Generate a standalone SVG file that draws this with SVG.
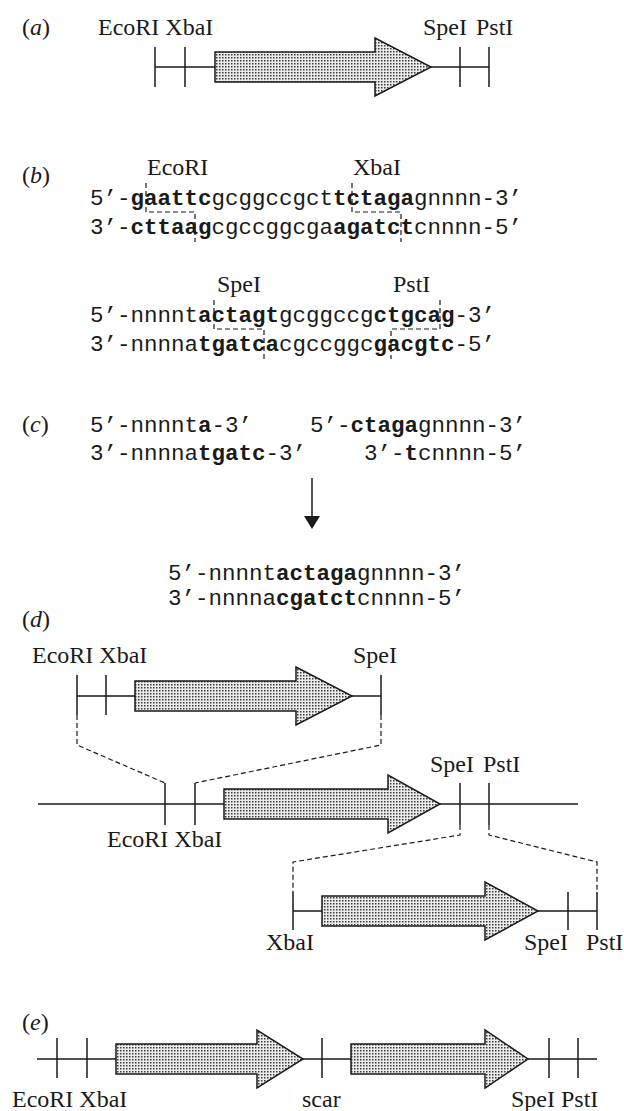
<svg xmlns="http://www.w3.org/2000/svg" width="624" height="1111" viewBox="0 0 624 1111">
<defs>
<pattern id="dots" width="3" height="3" patternUnits="userSpaceOnUse">
<rect width="3" height="3" fill="#ececec"/>
<rect width="1.5" height="1.5" fill="#3a3a3a"/>
</pattern>
<style>
.lbl{font-family:"Liberation Serif","Times New Roman",serif;font-size:24px;fill:#1a1a1a}
.seq{font-family:"Liberation Mono","Courier New",monospace;font-size:22.5px;fill:#1a1a1a}
.b{font-weight:bold}
.ln{stroke:#1a1a1a;stroke-width:1.5;fill:none}
.dash{stroke:#1a1a1a;stroke-width:1.2;fill:none;stroke-dasharray:5 3}
.arr{fill:url(#dots);stroke:#1a1a1a;stroke-width:1.5}
</style>
</defs>
<rect width="624" height="1111" fill="#fff"/>

<g id="panel-a">
<text class="lbl" x="22" y="35">(<tspan font-style="italic">a</tspan>)</text>
<text class="lbl" x="98" y="35">EcoRI XbaI</text>
<text class="lbl" x="423" y="35">SpeI</text>
<text class="lbl" x="476" y="35">PstI</text>
<path class="ln" d="M155,67 H215 M431,67 H489 M155,47 V87 M185,47 V87 M460,47 V87 M489,47 V87"/>
<path class="arr" d="M215,52 H375 V38 L431,67 L375,96 V82 H215 Z"/>
</g>

<g id="panel-b">
<text class="lbl" x="22" y="183">(<tspan font-style="italic">b</tspan>)</text>
<text class="lbl" x="147" y="175">EcoRI</text>
<text class="lbl" x="353" y="175">XbaI</text>
<text class="seq" x="90" y="205">5’-<tspan class="b">gaattc</tspan>gcggccgct<tspan class="b">tctaga</tspan>gnnnn-3’</text>
<text class="seq" x="90" y="234">3’-<tspan class="b">cttaag</tspan>cgccggcga<tspan class="b">agatct</tspan>cnnnn-5’</text>
<text class="lbl" x="217" y="292">SpeI</text>
<text class="lbl" x="393" y="292">PstI</text>
<text class="seq" x="90" y="322">5’-nnnnt<tspan class="b">actagt</tspan>gcggccg<tspan class="b">ctgcag</tspan>-3’</text>
<text class="seq" x="90" y="351">3’-nnnna<tspan class="b">tgatca</tspan>cgccggc<tspan class="b">gacgtc</tspan>-5’</text>
</g>

<g id="panel-c">
<text class="lbl" x="22" y="432">(<tspan font-style="italic">c</tspan>)</text>
<text class="seq" x="90" y="432">5’-nnnnt<tspan class="b">a</tspan>-3’</text>
<text class="seq" x="310" y="432">5’-<tspan class="b">ctaga</tspan>gnnnn-3’</text>
<text class="seq" x="90" y="460">3’-nnnna<tspan class="b">tgatc</tspan>-3’</text>
<text class="seq" x="364" y="460">3’-<tspan class="b">t</tspan>cnnnn-5’</text>
<text class="seq" x="168" y="580">5’-nnnnt<tspan class="b">actaga</tspan>gnnnn-3’</text>
<text class="seq" x="168" y="605">3’-nnnna<tspan class="b">cgatct</tspan>cnnnn-5’</text>
</g>

<g id="panel-d">
<text class="lbl" x="22" y="627">(<tspan font-style="italic">d</tspan>)</text>
<text class="lbl" x="32" y="663">EcoRI XbaI</text>
<text class="lbl" x="353" y="663">SpeI</text>
<path class="ln" d="M77,696 H135 M352,696 H381 M77,675 V715 M106,675 V715 M381,675 V715"/>
<path class="arr" d="M135,681 H296 V667 L352,696 L296,725 V711 H135 Z"/>
<text class="lbl" x="430" y="772">SpeI</text>
<text class="lbl" x="483" y="772">PstI</text>
<path class="ln" d="M38,804 H224 M440,804 H578 M165,783 V825 M195,783 V825 M460,783 V825 M489,783 V825"/>
<path class="arr" d="M224,789 H388 V775 L440,804 L388,833 V819 H224 Z"/>
<text class="lbl" x="107" y="847">EcoRI XbaI</text>
<path class="ln" d="M293,911 H322 M538,911 H597 M293,892 V930 M568,892 V930 M597,892 V930"/>
<path class="arr" d="M322,896 H485 V882 L538,911 L485,940 V926 H322 Z"/>
<text class="lbl" x="266" y="950">XbaI</text>
<text class="lbl" x="524" y="950">SpeI</text>
<text class="lbl" x="586" y="950">PstI</text>
</g>

<g id="panel-e">
<text class="lbl" x="22" y="1030">(<tspan font-style="italic">e</tspan>)</text>
<path class="ln" d="M37,1059 H116 M303,1059 H351 M528,1059 H597 M57,1038 V1078 M87,1038 V1078 M322,1038 V1078 M549,1038 V1078 M578,1038 V1078"/>
<path class="arr" d="M116,1044 H257 V1030 L303,1059 L257,1088 V1074 H116 Z"/>
<path class="arr" d="M351,1044 H485 V1030 L528,1059 L485,1088 V1074 H351 Z"/>
<text class="lbl" x="12" y="1107">EcoRI XbaI</text>
<text class="lbl" x="302" y="1107">scar</text>
<text class="lbl" x="511" y="1107">SpeI</text>
<text class="lbl" x="561" y="1107">PstI</text>
</g>

<g id="connectors">
<path class="dash" d="M146,183 V212 H195 V242"/>
<path class="dash" d="M352,183 V212 H401 V242"/>
<path class="dash" d="M214,300 V329 H264 V359"/>
<path class="dash" d="M440,300 V329 H391 V359"/>
<path class="ln" d="M312,478 V518"/>
<polygon points="304,516 320,516 312,529" fill="#1a1a1a"/>
<path class="dash" d="M77,715 V745 L165,783"/>
<path class="dash" d="M381,715 V745 L195,783"/>
<path class="dash" d="M460,825 V835 L293,862 V892"/>
<path class="dash" d="M489,825 V835 L597,862 V892"/>
</g>
</svg>
